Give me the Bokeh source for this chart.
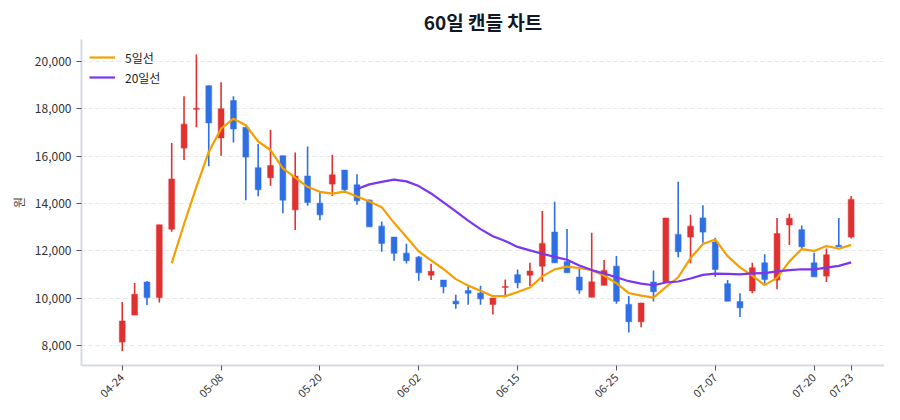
import numpy as np
import pandas as pd
from math import pi
from bokeh.plotting import figure
from bokeh.models import ColumnDataSource, FixedTicker, NumeralTickFormatter, Range1d, Legend, LegendItem
from bokeh.embed import file_html
from bokeh.resources import INLINE

# 60 trading days
opens  = [8140, 9280, 10680, 10020, 12910, 16340, 17980, 18980, 16770, 18350,
          17220, 15510, 15090, 16020, 13730, 15160, 14010, 14820, 15410, 14790,
          14140, 13040, 12580, 11900, 11730, 10970, 10760, 9870, 10320, 10210,
          9730, 10450, 10990, 10970, 11350, 12790, 11540, 10890, 10040, 10540,
          11350, 9730, 9000, 10680, 10680, 12690, 12580, 13390, 12370, 10610,
          9850, 10300, 11490, 10760, 13090, 12890, 11490, 10930, 12230, 12580]
closes = [9030, 10160, 10020, 13100, 15030, 17350, 18020, 17400, 18000, 17150,
          15960, 14580, 15600, 14140, 15160, 14040, 13520, 15210, 14580, 14110,
          13010, 12310, 11890, 11580, 11070, 11130, 10480, 9750, 10200, 9970,
          10000, 10480, 10650, 11140, 12310, 11490, 11070, 10340, 10690, 11170,
          9870, 9000, 9790, 10270, 13380, 11960, 13040, 12790, 11210, 9870,
          9590, 11280, 10790, 12730, 13370, 12170, 10900, 11830, 12170, 14170]
highs  = [9830, 10640, 10720, 13100, 16560, 18530, 20300, 18990, 19120, 18530,
          17220, 16510, 17110, 16020, 16150, 16410, 14470, 16060, 15410, 15230,
          14170, 13240, 12580, 12300, 11780, 11450, 10760, 10140, 10510, 10520,
          10000, 10790, 11210, 11490, 13680, 14070, 12920, 11240, 12760, 11610,
          11780, 10090, 9800, 11170, 13400, 14920, 13520, 13920, 12550, 10760,
          10200, 11490, 11850, 13390, 13560, 13070, 11920, 12100, 13390, 14310]
lows   = [7760, 9280, 9710, 9810, 12800, 15840, 17220, 15570, 16020, 16580,
          14140, 14300, 14750, 13590, 12880, 13900, 13290, 14320, 14440, 13940,
          13010, 11960, 11580, 11460, 10730, 10760, 10200, 9550, 9720, 9720,
          9310, 10130, 10420, 10510, 10690, 11490, 11070, 10180, 10040, 10540,
          9760, 8540, 8770, 9850, 10660, 11730, 11470, 12340, 10890, 9870,
          9200, 10200, 10610, 10370, 12240, 12100, 10900, 10680, 12170, 12520]

tick_idx = [0, 8, 16, 24, 32, 40, 48, 56, 59]
tick_labels = ["04-24", "05-08", "05-20", "06-02", "06-15", "06-25", "07-07", "07-20", "07-23"]

RED = "#e03131"
BLUE = "#2f6fe4"
FONT = "Noto Sans CJK KR"

idx = np.arange(len(closes))
df = pd.DataFrame(dict(x=idx, open=opens, close=closes, high=highs, low=lows))
df["top"] = df[["open", "close"]].max(axis=1)
df["bottom"] = df[["open", "close"]].min(axis=1)
df.loc[df["top"] - df["bottom"] < 40, "top"] = df["bottom"] + 40
df["color"] = np.where(df["close"] >= df["open"], RED, BLUE)
df["ma5"] = df["close"].rolling(5).mean()
df["ma20"] = df["close"].rolling(20).mean()
src = ColumnDataSource(df)

p = figure(width=884, height=404, output_backend="svg", toolbar_location=None,
           x_range=Range1d(-3.3, 61.7), y_range=Range1d(7150, 20930),
           min_border_left=81, min_border_right=0, min_border_top=35, min_border_bottom=36)

p.title.text = "60일 캔들 차트"
p.title.align = "center"
p.title.text_font = FONT
p.title.text_font_size = "19px"
p.title.text_font_style = "bold"
p.title.text_color = "#111827"

p.segment(x0="x", y0="high", x1="x", y1="low", color="color", line_width=1.6, source=src)
p.vbar(x="x", width=0.47, top="top", bottom="bottom", fill_color="color",
       line_color="color", line_alpha=0.45, line_width=1.2, source=src)

l5 = p.line(df["x"][4:], df["ma5"][4:], color="#f59f00", line_width=2.2)
l20 = p.line(df["x"][19:], df["ma20"][19:], color="#7b35ee", line_width=2.2)

legend = Legend(items=[LegendItem(label="5일선", renderers=[l5]),
                       LegendItem(label="20일선", renderers=[l20])],
                location="top_left", background_fill_alpha=0, border_line_alpha=0,
                label_text_font=FONT, label_text_font_size="12px", label_text_color="#222",
                glyph_width=26, label_standoff=10, spacing=0, padding=4, margin=4)
p.add_layout(legend)

p.xaxis.ticker = FixedTicker(ticks=tick_idx)
p.xaxis.major_label_overrides = {i: lab for i, lab in zip(tick_idx, tick_labels)}
p.xaxis.major_label_orientation = pi / 4
p.yaxis.ticker = FixedTicker(ticks=[8000, 10000, 12000, 14000, 16000, 18000, 20000])
p.yaxis.formatter = NumeralTickFormatter(format="0,0")
p.yaxis.axis_label = "원"

for ax in (p.xaxis, p.yaxis):
    ax.axis_line_color = "#d5d9e0"
    ax.axis_line_width = 2
    ax.major_tick_line_color = "#555"
    ax.major_tick_in = 0
    ax.major_tick_out = 5
    ax.minor_tick_line_color = None
    ax.major_label_text_font = FONT
    ax.major_label_text_color = "#333"
    ax.axis_label_text_font = FONT
    ax.axis_label_text_font_style = "normal"
    ax.axis_label_text_font_size = "12px"
p.xaxis.major_label_text_font_size = "11px"
p.yaxis.major_label_text_font_size = "12px"

p.xgrid.grid_line_color = None
p.ygrid.grid_line_color = "#e5e7eb"
p.ygrid.grid_line_dash = "4 3"
p.outline_line_color = None

open("out.html", "w").write(file_html(p, INLINE))
